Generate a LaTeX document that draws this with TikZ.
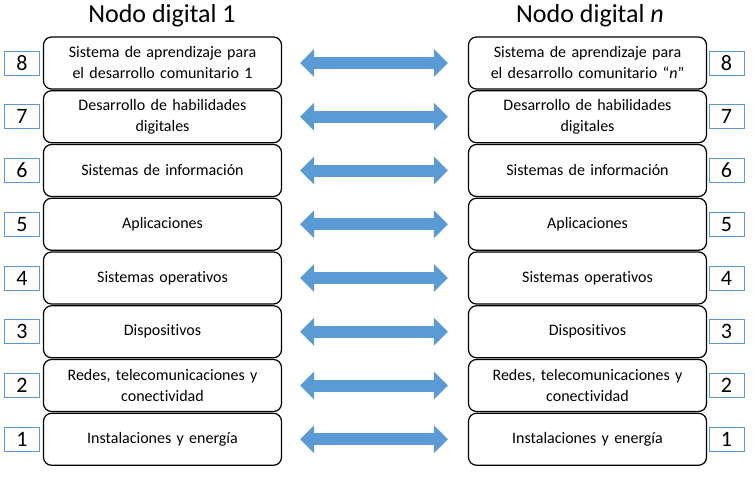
\documentclass[tikz,border=0pt]{standalone}
\usepackage{fontspec}
\setmainfont[Ligatures=NoCommon]{Carlito}
\usetikzlibrary{arrows.meta}

\definecolor{azulflecha}{RGB}{91,155,213}

\tikzset{
  capa/.style={draw=black, line width=1.2pt, rounded corners=8pt, fill=white,
    minimum width=238pt, minimum height=52pt, inner sep=2pt,
    align=center, text width=232pt, font=\fontsize{16}{21}\selectfont},
  nivel/.style={draw=azulflecha, line width=0.9pt, minimum width=35pt,
    minimum height=24pt, inner sep=0pt, font=\fontsize{22}{22}\selectfont},
  titulo/.style={font=\fontsize{26}{26}\selectfont},
  enlace/.style={line width=12pt, azulflecha,
    {Triangle[length=14pt,width=27pt]}-{Triangle[length=14pt,width=27pt]},
    shorten <=18pt, shorten >=20pt}
}

\begin{document}
\begin{tikzpicture}[x=1pt, y=-1pt]
  \useasboundingbox (0,0) rectangle (754,476);

  % Titulos
  \node[titulo] (t1) at (162,16) {Nodo digital 1};
  \node[titulo] (tn) at (590,16) {Nodo digital \textit{n}};

  % Nodo digital 1
  \node[capa] (a8) at (162.5,63) {Sistema de aprendizaje para\\el desarrollo comunitario 1};
  \node[capa] (a7) at (162.5,116.75) {Desarrollo de habilidades\\digitales};
  \node[capa] (a6) at (162.5,170.5) {Sistemas de información};
  \node[capa] (a5) at (162.5,224.25) {Aplicaciones};
  \node[capa] (a4) at (162.5,278) {Sistemas operativos};
  \node[capa] (a3) at (162.5,331.75) {Dispositivos};
  \node[capa] (a2) at (162.5,385.5) {Redes, telecomunicaciones y\\conectividad};
  \node[capa] (a1) at (162.5,439.25) {Instalaciones y energía};

  % Nodo digital n
  \node[capa] (b8) at (587.5,63) {Sistema de aprendizaje para\\el desarrollo comunitario “\textit{n}”};
  \node[capa] (b7) at (587.5,116.75) {Desarrollo de habilidades\\digitales};
  \node[capa] (b6) at (587.5,170.5) {Sistemas de información};
  \node[capa] (b5) at (587.5,224.25) {Aplicaciones};
  \node[capa] (b4) at (587.5,278) {Sistemas operativos};
  \node[capa] (b3) at (587.5,331.75) {Dispositivos};
  \node[capa] (b2) at (587.5,385.5) {Redes, telecomunicaciones y\\conectividad};
  \node[capa] (b1) at (587.5,439.25) {Instalaciones y energía};

  % Numeros de nivel
  \node[nivel] (na8) at (22,63) {8};
  \node[nivel] (na7) at (22,116.75) {7};
  \node[nivel] (na6) at (22,170.5) {6};
  \node[nivel] (na5) at (22,224.25) {5};
  \node[nivel] (na4) at (22,278) {4};
  \node[nivel] (na3) at (22,331.75) {3};
  \node[nivel] (na2) at (22,385.5) {2};
  \node[nivel] (na1) at (22,439.25) {1};
  \node[nivel] (nb8) at (726.5,63) {8};
  \node[nivel] (nb7) at (726.5,116.75) {7};
  \node[nivel] (nb6) at (726.5,170.5) {6};
  \node[nivel] (nb5) at (726.5,224.25) {5};
  \node[nivel] (nb4) at (726.5,278) {4};
  \node[nivel] (nb3) at (726.5,331.75) {3};
  \node[nivel] (nb2) at (726.5,385.5) {2};
  \node[nivel] (nb1) at (726.5,439.25) {1};

  % Flechas entre capas
  \draw[enlace] (a8) -- (b8);
  \draw[enlace] (a7) -- (b7);
  \draw[enlace] (a6) -- (b6);
  \draw[enlace] (a5) -- (b5);
  \draw[enlace] (a4) -- (b4);
  \draw[enlace] (a3) -- (b3);
  \draw[enlace] (a2) -- (b2);
  \draw[enlace] (a1) -- (b1);
\end{tikzpicture}
\end{document}
